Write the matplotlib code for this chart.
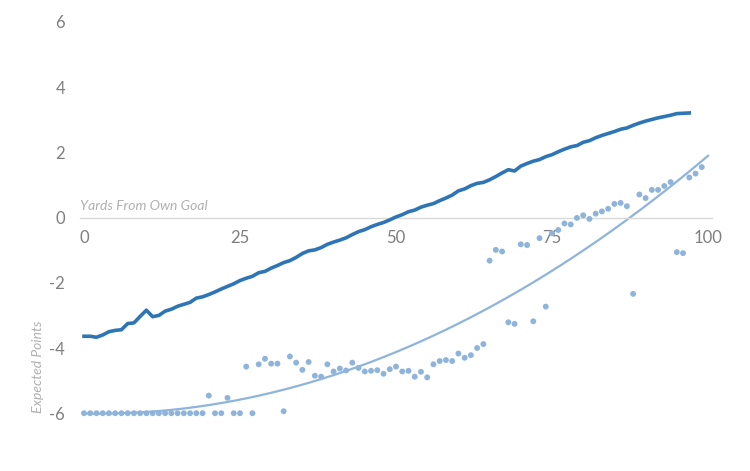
import numpy as np
import matplotlib
matplotlib.use("Agg")
import matplotlib.pyplot as plt

plt.rcParams['font.family'] = ['Lato', 'DejaVu Sans']
plt.rcParams['axes.unicode_minus'] = False

# Expected points by field position (dark line), x = 0..97
line_x = list(range(0, 98))
line_y = [-3.64, -3.64, -3.67, -3.60, -3.50, -3.46, -3.44, -3.25, -3.23, -3.03,
          -2.84, -3.04, -3.00, -2.87, -2.81, -2.72, -2.66, -2.60, -2.47, -2.43,
          -2.36, -2.28, -2.19, -2.11, -2.03, -1.93, -1.86, -1.80, -1.69, -1.65,
          -1.55, -1.47, -1.38, -1.32, -1.22, -1.10, -1.02, -0.99, -0.92, -0.82,
          -0.75, -0.69, -0.62, -0.52, -0.43, -0.37, -0.28, -0.21, -0.15, -0.07,
          0.02, 0.09, 0.18, 0.23, 0.32, 0.38, 0.43, 0.52, 0.60, 0.69,
          0.82, 0.88, 0.98, 1.05, 1.08, 1.16, 1.26, 1.37, 1.47, 1.43,
          1.58, 1.66, 1.73, 1.78, 1.87, 1.93, 2.02, 2.10, 2.17, 2.21,
          2.31, 2.36, 2.45, 2.52, 2.58, 2.64, 2.71, 2.75, 2.83, 2.90,
          2.96, 3.01, 3.06, 3.10, 3.14, 3.19, 3.20, 3.21]

# Scatter points, x = 0..99
dots_x = list(range(0, 100))
dots_y = [-6.0] * 20 + [
    -5.46, -6.00, -6.00, -5.53, -6.00, -6.00, -4.57, -6.00, -4.50, -4.33,
    -4.48, -4.48, -5.94, -4.26, -4.45, -4.67, -4.43, -4.85, -4.88, -4.50,
    -4.72, -4.63, -4.69, -4.45, -4.61, -4.72, -4.70, -4.68, -4.79, -4.65,
    -4.57, -4.72, -4.70, -4.88, -4.73, -4.90, -4.50, -4.40, -4.37, -4.40,
    -4.17, -4.30, -4.22, -4.00, -3.88, -1.32, -0.99, -1.04, -3.21, -3.26,
    -0.82, -0.84, -3.18, -0.63, -2.73, -0.48, -0.38, -0.18, -0.21, -0.01,
    0.07, -0.04, 0.12, 0.19, 0.27, 0.42, 0.45, 0.35, -2.34, 0.71,
    0.60, 0.85, 0.85, 0.97, 1.09, -1.06, -1.09, 1.23, 1.35, 1.55]

x_ticks = [0, 25, 50, 75, 100]
y_ticks = [-6, -4, -2, 0, 2, 4, 6]

dark_blue = '#2e75b6'
light_blue = '#8fb4dc'
gray = '#7f7f7f'

fig = plt.figure(figsize=(7.5, 4.71), dpi=100)
ax = fig.add_axes([0.107, 0.0535, 0.842, 0.8998])

# polynomial (order 2) trendline of the scatter, like the spreadsheet one
coef = np.polyfit(dots_x, dots_y, 2)
tx = np.linspace(0, 100, 200)
ax.plot(tx, np.polyval(coef, tx), color=light_blue, lw=1.6, zorder=2)

ax.scatter(dots_x, dots_y, s=18, color=light_blue, edgecolors='none', zorder=3)
ax.plot(line_x, line_y, color=dark_blue, lw=2.6, solid_joinstyle='round', zorder=4)

ax.set_xlim(-0.6, 100.6)
ax.set_ylim(-7, 6)
ax.set_xticks(x_ticks)
ax.set_yticks(y_ticks)

for s in ['top', 'right', 'left']:
    ax.spines[s].set_visible(False)
ax.spines['bottom'].set_position(('data', 0))
ax.spines['bottom'].set_color('#d9d9d9')
ax.spines['bottom'].set_linewidth(1.0)
ax.tick_params(axis='both', length=0, labelsize=12, labelcolor=gray)
ax.tick_params(axis='x', pad=9)
ax.tick_params(axis='y', pad=11)

ax.text(-0.6, 0.18, 'Yards From Own Goal', style='italic', color='#b0b0b0',
        fontsize=10, ha='left', va='bottom')
ax.text(-7.4, -6.0, 'Expected Points', style='italic', color='#b0b0b0',
        fontsize=10, rotation=90, ha='center', va='bottom')

fig.savefig('out.png', dpi=100)
